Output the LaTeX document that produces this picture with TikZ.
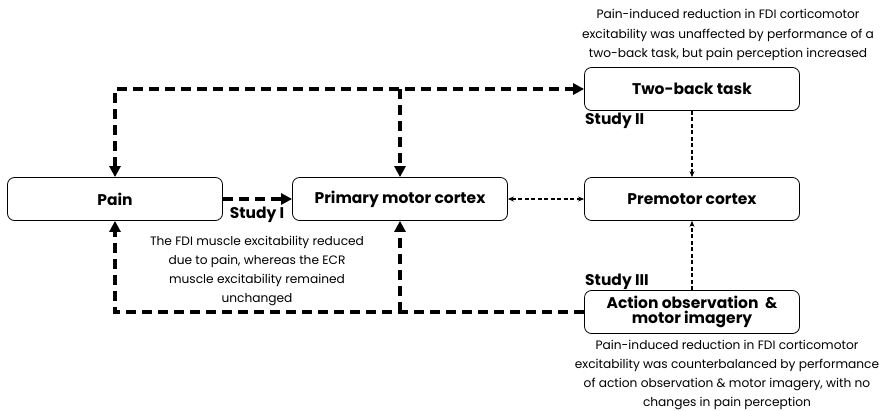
\documentclass[tikz,border=0pt]{standalone}
\usepackage{fontspec}
\setmainfont{Poppins}
\usetikzlibrary{arrows.meta}
\begin{document}
\begin{tikzpicture}[x=1pt,y=-1pt,
  box/.style={draw, rounded corners=7pt, minimum width=215pt, minimum height=43pt, inner sep=2pt,
    font=\bfseries\fontsize{15.5}{17}\selectfont, line width=0.8pt, align=center},
  bigdash/.style={line width=3.6pt, dash pattern=on 10pt off 6pt, -{Triangle[length=11pt,width=11pt]}},
  smalldash/.style={line width=1.3pt, dash pattern=on 4pt off 2.5pt, -{Stealth[length=6pt,width=5pt]}},
  note/.style={font=\fontsize{12.2}{19.2}\selectfont, align=center, inner sep=0pt},
  study/.style={font=\bfseries\fontsize{15.5}{17}\selectfont, inner sep=0pt}
]
\useasboundingbox (0,0) rectangle (881,410);
\node[box] (pain) at (115,199) {Pain};
\node[box] (pmc) at (400,199) {Primary motor cortex};
\node[box] (pre) at (692,199) {Premotor cortex};
\node[box] (two) at (692,89) {Two-back task};
\node[box] (act) at (692,312) {Action observation \ \&\\[-2pt] motor imagery};

\draw[bigdash, {Triangle[length=11pt,width=11pt]}-{Triangle[length=11pt,width=11pt]}] (pain.north) |- (two.west);
\coordinate (tm) at (pmc.north |- two.west);
\draw[bigdash] (tm) -- (pmc.north);
\draw[bigdash] (act.west) -| (pain.south);
\coordinate (bm) at (pmc.south |- act.west);
\draw[bigdash] (bm) -- (pmc.south);
\draw[bigdash] (pain) -- (pmc);

\draw[smalldash, {Stealth[length=6pt,width=5pt]}-{Stealth[length=6pt,width=5pt]}] (pmc) -- (pre);
\draw[smalldash] (two) -- (pre);
\draw[smalldash] (act) -- (pre);

\node[study] (s1) at (257,215) {Study I};
\node[study, anchor=west] (s2) at (585,121) {Study II};
\node[study, anchor=west] (s3) at (585,282) {Study III};

\node[note] (n1) at (257,271) {The FDI muscle excitability reduced\\due to pain, whereas the ECR\\muscle excitability remained\\unchanged};
\node[note] (n2) at (728,35) {Pain-induced reduction in FDI corticomotor\\excitability was unaffected by performance of a\\two-back task, but pain perception increased};
\node[note] (n3) at (727,375) {Pain-induced reduction in FDI corticomotor\\excitability was counterbalanced by performance\\of action observation \& motor imagery, with no\\changes in pain perception};
\end{tikzpicture}
\end{document}
